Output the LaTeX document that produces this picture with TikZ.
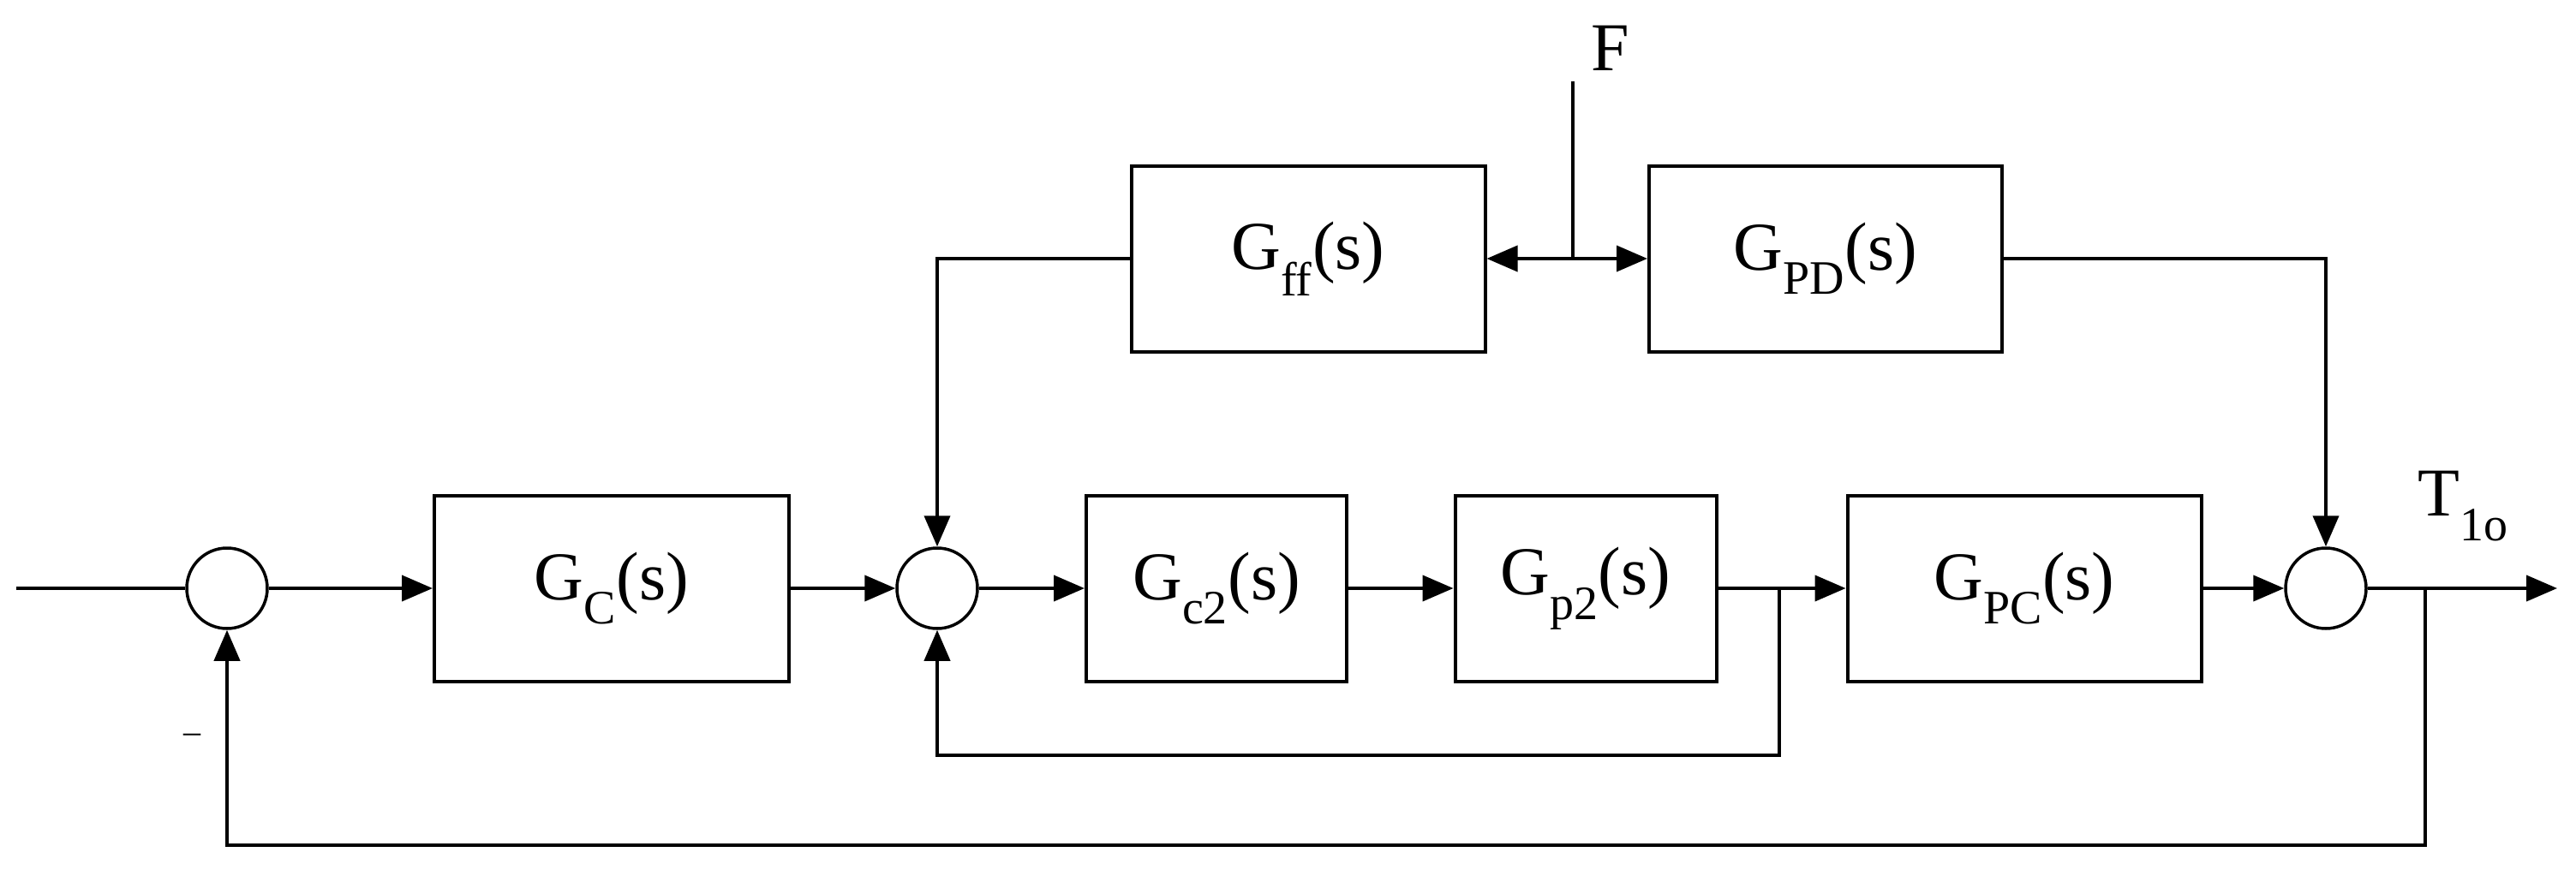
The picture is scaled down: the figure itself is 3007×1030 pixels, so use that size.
\documentclass[tikz,border=0pt]{standalone}
\usepackage{fontspec}
\setmainfont{Liberation Serif}
\usetikzlibrary{arrows.meta}
\begin{document}
\begin{tikzpicture}[x=1pt,y=-1pt,
  every node/.style={font=\fontsize{80}{90}\selectfont},
  blk/.style={draw,line width=4pt,minimum width=#1,minimum height=217pt,inner sep=0pt},
  sum/.style={draw,circle,line width=3.5pt,minimum size=94pt,inner sep=0pt},
  ln/.style={line width=4pt},
  ar/.style={ln,-{Triangle[length=36pt,width=30pt]}}]
\useasboundingbox (0,0) rectangle (3007,1030);
\node[sum] (s1) at (265,687) {};
\node[sum] (s2) at (1094,687) {};
\node[sum] (s3) at (2715,687) {};
\node[blk=414pt] (gc) at (714,687) {G\textsubscript{C}(s)};
\node[blk=304pt] (gc2) at (1420,687) {G\textsubscript{c2}(s)};
\node[blk=305pt] (gp2) at (1851,687) {G\textsubscript{p2}(s)};
\node[blk=413pt] (gpc) at (2363,687) {G\textsubscript{PC}(s)};
\node[blk=413pt] (gff) at (1527,302) {G\textsubscript{ff}(s)};
\node[blk=412pt] (gpd) at (2131,302) {G\textsubscript{PD}(s)};
\node (F) at (1880,56) {F};
\node (T) at (2875,591) {T\textsubscript{1o}};
\node at (224,862) {\fontsize{40}{40}\selectfont --};
\coordinate (in) at (19,687);
\coordinate (Ftop) at (1836,95);
\coordinate (Fj) at (1836,302);
\coordinate (b1) at (2077,687);
\coordinate (b2) at (2831,687);
\coordinate (out) at (2985,687);
\draw[ln] (in) -- (s1.west);
\draw[ar] (s1.east) -- (gc.west);
\draw[ar] (gc.east) -- (s2.west);
\draw[ar] (s2.east) -- (gc2.west);
\draw[ar] (gc2.east) -- (gp2.west);
\draw[ar] (gp2.east) -- (gpc.west);
\draw[ar] (gpc.east) -- (s3.west);
\draw[ar] (s3.east) -- (out);
\draw[ar] (b1) -- (b1|-0,882) -| (s2.south);
\draw[ar] (b2) -- (b2|-0,987) -| (s1.south);
\draw[ar] (gff.west) -| (s2.north);
\draw[ar] (gpd.east) -| (s3.north);
\draw[ln] (Ftop) -- (Fj);
\draw[ar] (Fj) -- (gff.east);
\draw[ar] (Fj) -- (gpd.west);
\end{tikzpicture}
\end{document}
